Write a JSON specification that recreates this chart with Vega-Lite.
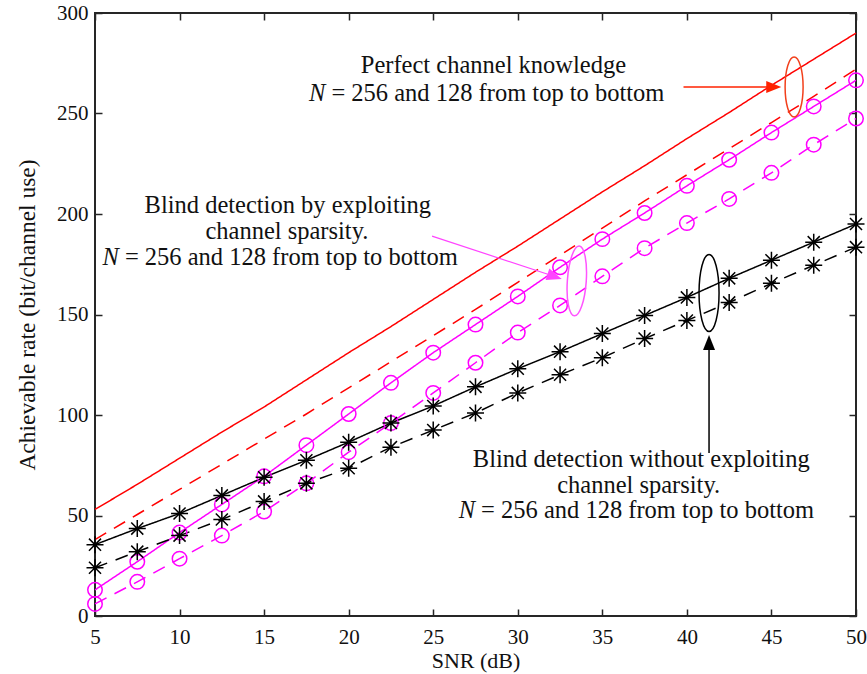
{
  "$schema": "https://vega.github.io/schema/vega-lite/v6.json",
  "width": 761,
  "height": 603,
  "autosize": {"type": "none"},
  "padding": {"left": 95, "top": 13, "right": 11, "bottom": 58},
  "background": "white",
  "config": {
    "view": {"stroke": "#262626", "strokeWidth": 2},
    "font": "Liberation Serif",
    "axis": {
      "grid": false,
      "domain": false,
      "labelFont": "Liberation Serif",
      "titleFont": "Liberation Serif",
      "labelFontSize": 21,
      "titleFontSize": 23.5,
      "labelColor": "#111111",
      "titleColor": "#111111",
      "titleFontWeight": "normal",
      "tickColor": "#262626",
      "tickWidth": 1.5,
      "tickSize": -7,
      "labelFlush": false
    }
  },
  "datasets": {
    "curves": [
      {"snr": 5, "rate": 53, "series": "PCK256"},
      {"snr": 7.5, "rate": 65.5, "series": "PCK256"},
      {"snr": 10, "rate": 78.5, "series": "PCK256"},
      {"snr": 12.5, "rate": 91.5, "series": "PCK256"},
      {"snr": 15, "rate": 104, "series": "PCK256"},
      {"snr": 17.5, "rate": 117.5, "series": "PCK256"},
      {"snr": 20, "rate": 131, "series": "PCK256"},
      {"snr": 22.5, "rate": 144, "series": "PCK256"},
      {"snr": 25, "rate": 157.5, "series": "PCK256"},
      {"snr": 27.5, "rate": 171, "series": "PCK256"},
      {"snr": 30, "rate": 184, "series": "PCK256"},
      {"snr": 32.5, "rate": 197.5, "series": "PCK256"},
      {"snr": 35, "rate": 211, "series": "PCK256"},
      {"snr": 37.5, "rate": 224, "series": "PCK256"},
      {"snr": 40, "rate": 237.5, "series": "PCK256"},
      {"snr": 42.5, "rate": 250.5, "series": "PCK256"},
      {"snr": 45, "rate": 264, "series": "PCK256"},
      {"snr": 47.5, "rate": 277, "series": "PCK256"},
      {"snr": 50, "rate": 290, "series": "PCK256"},
      {"snr": 5, "rate": 38, "series": "PCK128"},
      {"snr": 7.5, "rate": 50.5, "series": "PCK128"},
      {"snr": 10, "rate": 63, "series": "PCK128"},
      {"snr": 12.5, "rate": 75.5, "series": "PCK128"},
      {"snr": 15, "rate": 88, "series": "PCK128"},
      {"snr": 17.5, "rate": 100.5, "series": "PCK128"},
      {"snr": 20, "rate": 113.5, "series": "PCK128"},
      {"snr": 22.5, "rate": 126.5, "series": "PCK128"},
      {"snr": 25, "rate": 139.5, "series": "PCK128"},
      {"snr": 27.5, "rate": 152.5, "series": "PCK128"},
      {"snr": 30, "rate": 166, "series": "PCK128"},
      {"snr": 32.5, "rate": 179.5, "series": "PCK128"},
      {"snr": 35, "rate": 193, "series": "PCK128"},
      {"snr": 37.5, "rate": 206.5, "series": "PCK128"},
      {"snr": 40, "rate": 219.5, "series": "PCK128"},
      {"snr": 42.5, "rate": 232.5, "series": "PCK128"},
      {"snr": 45, "rate": 245.5, "series": "PCK128"},
      {"snr": 47.5, "rate": 258.5, "series": "PCK128"},
      {"snr": 50, "rate": 272, "series": "PCK128"},
      {"snr": 5, "rate": 13, "series": "BDS256"},
      {"snr": 7.5, "rate": 27, "series": "BDS256"},
      {"snr": 10, "rate": 41.5, "series": "BDS256"},
      {"snr": 12.5, "rate": 55.5, "series": "BDS256"},
      {"snr": 15, "rate": 69.5, "series": "BDS256"},
      {"snr": 17.5, "rate": 85, "series": "BDS256"},
      {"snr": 20, "rate": 100.5, "series": "BDS256"},
      {"snr": 22.5, "rate": 116, "series": "BDS256"},
      {"snr": 25, "rate": 131, "series": "BDS256"},
      {"snr": 27.5, "rate": 145, "series": "BDS256"},
      {"snr": 30, "rate": 159, "series": "BDS256"},
      {"snr": 32.5, "rate": 173.5, "series": "BDS256"},
      {"snr": 35, "rate": 187.5, "series": "BDS256"},
      {"snr": 37.5, "rate": 200.5, "series": "BDS256"},
      {"snr": 40, "rate": 214, "series": "BDS256"},
      {"snr": 42.5, "rate": 227, "series": "BDS256"},
      {"snr": 45, "rate": 240.5, "series": "BDS256"},
      {"snr": 47.5, "rate": 253.5, "series": "BDS256"},
      {"snr": 50, "rate": 266.5, "series": "BDS256"},
      {"snr": 5, "rate": 6, "series": "BDS128"},
      {"snr": 7.5, "rate": 17, "series": "BDS128"},
      {"snr": 10, "rate": 28.5, "series": "BDS128"},
      {"snr": 12.5, "rate": 40, "series": "BDS128"},
      {"snr": 15, "rate": 52, "series": "BDS128"},
      {"snr": 17.5, "rate": 66, "series": "BDS128"},
      {"snr": 20, "rate": 81.5, "series": "BDS128"},
      {"snr": 22.5, "rate": 96, "series": "BDS128"},
      {"snr": 25, "rate": 111, "series": "BDS128"},
      {"snr": 27.5, "rate": 126, "series": "BDS128"},
      {"snr": 30, "rate": 141, "series": "BDS128"},
      {"snr": 32.5, "rate": 154.5, "series": "BDS128"},
      {"snr": 35, "rate": 169, "series": "BDS128"},
      {"snr": 37.5, "rate": 183, "series": "BDS128"},
      {"snr": 40, "rate": 195.5, "series": "BDS128"},
      {"snr": 42.5, "rate": 207.5, "series": "BDS128"},
      {"snr": 45, "rate": 220.5, "series": "BDS128"},
      {"snr": 47.5, "rate": 234.5, "series": "BDS128"},
      {"snr": 50, "rate": 247.5, "series": "BDS128"},
      {"snr": 5, "rate": 35.5, "series": "BDN256"},
      {"snr": 7.5, "rate": 43.5, "series": "BDN256"},
      {"snr": 10, "rate": 51, "series": "BDN256"},
      {"snr": 12.5, "rate": 60, "series": "BDN256"},
      {"snr": 15, "rate": 69, "series": "BDN256"},
      {"snr": 17.5, "rate": 77.5, "series": "BDN256"},
      {"snr": 20, "rate": 86.5, "series": "BDN256"},
      {"snr": 22.5, "rate": 96, "series": "BDN256"},
      {"snr": 25, "rate": 104.5, "series": "BDN256"},
      {"snr": 27.5, "rate": 114, "series": "BDN256"},
      {"snr": 30, "rate": 123, "series": "BDN256"},
      {"snr": 32.5, "rate": 131.5, "series": "BDN256"},
      {"snr": 35, "rate": 140.5, "series": "BDN256"},
      {"snr": 37.5, "rate": 149.5, "series": "BDN256"},
      {"snr": 40, "rate": 158.5, "series": "BDN256"},
      {"snr": 42.5, "rate": 168, "series": "BDN256"},
      {"snr": 45, "rate": 177, "series": "BDN256"},
      {"snr": 47.5, "rate": 186, "series": "BDN256"},
      {"snr": 50, "rate": 195, "series": "BDN256"},
      {"snr": 5, "rate": 24, "series": "BDN128"},
      {"snr": 7.5, "rate": 32, "series": "BDN128"},
      {"snr": 10, "rate": 40, "series": "BDN128"},
      {"snr": 12.5, "rate": 48, "series": "BDN128"},
      {"snr": 15, "rate": 57, "series": "BDN128"},
      {"snr": 17.5, "rate": 66, "series": "BDN128"},
      {"snr": 20, "rate": 73.5, "series": "BDN128"},
      {"snr": 22.5, "rate": 84, "series": "BDN128"},
      {"snr": 25, "rate": 92.5, "series": "BDN128"},
      {"snr": 27.5, "rate": 101, "series": "BDN128"},
      {"snr": 30, "rate": 111, "series": "BDN128"},
      {"snr": 32.5, "rate": 120, "series": "BDN128"},
      {"snr": 35, "rate": 128.5, "series": "BDN128"},
      {"snr": 37.5, "rate": 138, "series": "BDN128"},
      {"snr": 40, "rate": 147, "series": "BDN128"},
      {"snr": 42.5, "rate": 156, "series": "BDN128"},
      {"snr": 45, "rate": 165.5, "series": "BDN128"},
      {"snr": 47.5, "rate": 174.5, "series": "BDN128"},
      {"snr": 50, "rate": 183.5, "series": "BDN128"}
    ],
    "textCenter": [
      {"x": 28.56, "y": 270.1, "text": "Perfect channel knowledge"},
      {"x": 16.4, "y": 200.5, "text": "Blind detection by exploiting"},
      {"x": 16.35, "y": 187.6, "text": "channel sparsity."},
      {"x": 37.3, "y": 74.1, "text": "Blind detection without exploiting"},
      {"x": 37.15, "y": 61.2, "text": "channel sparsity."}
    ],
    "textRest": [
      {"x": 18.98, "y": 256.2, "text": "= 256 and 128 from top to bottom"},
      {"x": 6.77, "y": 174.6, "text": "= 256 and 128 from top to bottom"},
      {"x": 27.83, "y": 48.8, "text": "= 256 and 128 from top to bottom"}
    ],
    "textN": [
      {"x": 18.62, "y": 256.2, "text": "N"},
      {"x": 6.41, "y": 174.6, "text": "N"},
      {"x": 27.47, "y": 48.8, "text": "N"}
    ],
    "arrows": [
      {"x": 39.8, "y": 263.2, "x2": 45.0, "y2": 263.2, "group": "red"},
      {"x": 24.93, "y": 189, "x2": 32.0, "y2": 169.4, "group": "magenta"},
      {"x": 41.31, "y": 81.1, "x2": 41.31, "y2": 135, "group": "black"}
    ],
    "heads": [
      {"x": 45.58, "y": 263.2, "group": "red"},
      {"x": 32.6, "y": 167.7, "group": "magenta"},
      {"x": 41.31, "y": 139.8, "group": "black"}
    ],
    "ellipses": [
      {"x": 46.34, "y": 263.2, "group": "red"},
      {"x": 33.49, "y": 166.7, "group": "magenta"},
      {"x": 41.31, "y": 160.7, "group": "black"}
    ]
  },
  "layer": [
    {
      "data": {"name": "curves"},
      "mark": {"type": "line", "strokeWidth": 1.5},
      "encoding": {
        "x": {
          "field": "snr", "type": "quantitative",
          "scale": {"domain": [5, 50], "nice": false, "zero": false},
          "axis": {"orient": "bottom", "title": "SNR (dB)", "values": [5, 10, 15, 20, 25, 30, 35, 40, 45, 50], "labelPadding": 17, "titlePadding": 3, "titleFontSize": 22}
        },
        "y": {
          "field": "rate", "type": "quantitative",
          "scale": {"domain": [0, 300], "nice": false, "zero": false},
          "axis": {"orient": "left", "title": "Achievable rate (bit/channel use)", "values": [0, 50, 100, 150, 200, 250, 300], "labelPadding": 14, "titlePadding": 17}
        },
        "color": {
          "field": "series", "type": "nominal",
          "scale": {"domain": ["PCK256", "PCK128", "BDS256", "BDS128", "BDN256", "BDN128"], "range": ["#ff0000", "#ff0000", "#ff00ff", "#ff00ff", "#000000", "#000000"]},
          "legend": null
        },
        "strokeDash": {
          "field": "series", "type": "nominal",
          "scale": {"domain": ["PCK256", "PCK128", "BDS256", "BDS128", "BDN256", "BDN128"], "range": [[1, 0], [13, 9], [1, 0], [13, 9], [1, 0], [13, 9]]},
          "legend": null
        }
      }
    },
    {
      "data": {"name": "curves"},
      "transform": [{"filter": "indexof(datum.series, 'BDS') === 0"}],
      "mark": {"type": "point", "shape": "circle", "size": 210, "filled": false, "stroke": "#ff00ff", "strokeWidth": 1.5, "opacity": 1},
      "encoding": {
        "x": {"field": "snr", "type": "quantitative", "axis": null},
        "y": {"field": "rate", "type": "quantitative", "axis": null}
      }
    },
    {
      "data": {"name": "curves"},
      "transform": [{"filter": "indexof(datum.series, 'BDN') === 0"}],
      "mark": {"type": "point", "shape": "M-1,0L1,0M0,-1L0,1M-0.71,-0.71L0.71,0.71M-0.71,0.71L0.71,-0.71", "size": 289, "filled": false, "stroke": "#000000", "strokeWidth": 1.5, "opacity": 1},
      "encoding": {
        "x": {"field": "snr", "type": "quantitative", "axis": {"orient": "top", "labels": false, "title": null, "values": [5, 10, 15, 20, 25, 30, 35, 40, 45, 50]}},
        "y": {"field": "rate", "type": "quantitative", "axis": {"orient": "right", "labels": false, "title": null, "values": [0, 50, 100, 150, 200, 250, 300]}}
      }
    },
    {
      "data": {"name": "arrows"},
      "transform": [{"filter": "datum.group === 'red'"}],
      "mark": {"type": "rule", "stroke": "#ff2200", "strokeWidth": 1.5},
      "encoding": {
        "x": {"field": "x", "type": "quantitative", "axis": null},
        "y": {"field": "y", "type": "quantitative", "axis": null},
        "x2": {"field": "x2"},
        "y2": {"field": "y2"}
      }
    },
    {
      "data": {"name": "arrows"},
      "transform": [{"filter": "datum.group === 'magenta'"}],
      "mark": {"type": "rule", "stroke": "#ff44ff", "strokeWidth": 1.2},
      "encoding": {
        "x": {"field": "x", "type": "quantitative", "axis": null},
        "y": {"field": "y", "type": "quantitative", "axis": null},
        "x2": {"field": "x2"},
        "y2": {"field": "y2"}
      }
    },
    {
      "data": {"name": "arrows"},
      "transform": [{"filter": "datum.group === 'black'"}],
      "mark": {"type": "rule", "stroke": "#000000", "strokeWidth": 1.5},
      "encoding": {
        "x": {"field": "x", "type": "quantitative", "axis": null},
        "y": {"field": "y", "type": "quantitative", "axis": null},
        "x2": {"field": "x2"},
        "y2": {"field": "y2"}
      }
    },
    {
      "data": {"name": "heads"},
      "transform": [{"filter": "datum.group === 'red'"}],
      "mark": {"type": "point", "shape": "M0,0L-0.4,1L0.4,1Z", "size": 900, "filled": true, "fill": "#ff2200", "strokeWidth": 0, "angle": 90, "opacity": 1},
      "encoding": {
        "x": {"field": "x", "type": "quantitative", "axis": null},
        "y": {"field": "y", "type": "quantitative", "axis": null}
      }
    },
    {
      "data": {"name": "heads"},
      "transform": [{"filter": "datum.group === 'magenta'"}],
      "mark": {"type": "point", "shape": "M0,0L-0.4,1L0.4,1Z", "size": 900, "filled": true, "fill": "#ff44ff", "strokeWidth": 0, "angle": 108, "opacity": 1},
      "encoding": {
        "x": {"field": "x", "type": "quantitative", "axis": null},
        "y": {"field": "y", "type": "quantitative", "axis": null}
      }
    },
    {
      "data": {"name": "heads"},
      "transform": [{"filter": "datum.group === 'black'"}],
      "mark": {"type": "point", "shape": "M0,0L-0.4,1L0.4,1Z", "size": 900, "filled": true, "fill": "#000000", "strokeWidth": 0, "angle": 0, "opacity": 1},
      "encoding": {
        "x": {"field": "x", "type": "quantitative", "axis": null},
        "y": {"field": "y", "type": "quantitative", "axis": null}
      }
    },
    {
      "data": {"name": "ellipses"},
      "transform": [{"filter": "datum.group === 'red'"}],
      "mark": {"type": "point", "shape": "M0,-1C0.166,-1,0.3,-0.552,0.3,0C0.3,0.552,0.166,1,0,1C-0.166,1,-0.3,0.552,-0.3,0C-0.3,-0.552,-0.166,-1,0,-1Z", "size": 3600, "filled": false, "stroke": "#f2401c", "strokeWidth": 1.5, "opacity": 1},
      "encoding": {
        "x": {"field": "x", "type": "quantitative", "axis": null},
        "y": {"field": "y", "type": "quantitative", "axis": null}
      }
    },
    {
      "data": {"name": "ellipses"},
      "transform": [{"filter": "datum.group === 'magenta'"}],
      "mark": {"type": "point", "shape": "M0,-1C0.149,-1,0.27,-0.552,0.27,0C0.27,0.552,0.149,1,0,1C-0.149,1,-0.27,0.552,-0.27,0C-0.27,-0.552,-0.149,-1,0,-1Z", "size": 4900, "angle": 4, "filled": false, "stroke": "#ff55ff", "strokeWidth": 1.5, "opacity": 1},
      "encoding": {
        "x": {"field": "x", "type": "quantitative", "axis": null},
        "y": {"field": "y", "type": "quantitative", "axis": null}
      }
    },
    {
      "data": {"name": "ellipses"},
      "transform": [{"filter": "datum.group === 'black'"}],
      "mark": {"type": "point", "shape": "M0,-1C0.144,-1,0.26,-0.552,0.26,0C0.26,0.552,0.144,1,0,1C-0.144,1,-0.26,0.552,-0.26,0C-0.26,-0.552,-0.144,-1,0,-1Z", "size": 5929, "filled": false, "stroke": "#000000", "strokeWidth": 1.5, "opacity": 1},
      "encoding": {
        "x": {"field": "x", "type": "quantitative", "axis": null},
        "y": {"field": "y", "type": "quantitative", "axis": null}
      }
    },
    {
      "data": {"name": "textCenter"},
      "mark": {"type": "text", "align": "center", "baseline": "alphabetic", "font": "Liberation Serif", "fontSize": 24.5, "color": "#111111"},
      "encoding": {
        "x": {"field": "x", "type": "quantitative", "axis": null},
        "y": {"field": "y", "type": "quantitative", "axis": null},
        "text": {"field": "text"}
      }
    },
    {
      "data": {"name": "textRest"},
      "mark": {"type": "text", "align": "left", "baseline": "alphabetic", "font": "Liberation Serif", "fontSize": 24.5, "color": "#111111"},
      "encoding": {
        "x": {"field": "x", "type": "quantitative", "axis": null},
        "y": {"field": "y", "type": "quantitative", "axis": null},
        "text": {"field": "text"}
      }
    },
    {
      "data": {"name": "textN"},
      "mark": {"type": "text", "align": "right", "baseline": "alphabetic", "font": "Liberation Serif", "fontStyle": "italic", "fontSize": 24.5, "color": "#111111"},
      "encoding": {
        "x": {"field": "x", "type": "quantitative", "axis": null},
        "y": {"field": "y", "type": "quantitative", "axis": null},
        "text": {"field": "text"}
      }
    }
  ],
  "resolve": {"axis": {"x": "independent", "y": "independent"}}
}
